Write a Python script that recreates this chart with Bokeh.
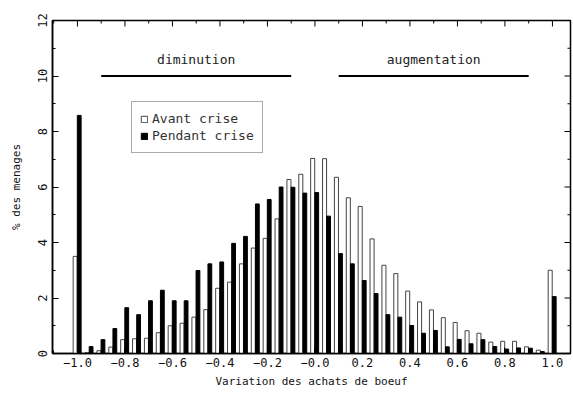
import numpy as np
from bokeh.plotting import figure
from bokeh.models import (Range1d, FixedTicker, Legend, LegendItem,
                          ColumnDataSource)
from bokeh.transform import dodge
from bokeh.core.properties import value
from bokeh.embed import file_html
from bokeh.resources import INLINE

# ---------------- data ----------------
bins = [-1.0, -0.95, -0.9, -0.85, -0.8, -0.75, -0.7, -0.65, -0.6, -0.55,
        -0.5, -0.45, -0.4, -0.35, -0.3, -0.25, -0.2, -0.15, -0.1, -0.05,
        0.0, 0.05, 0.1, 0.15, 0.2, 0.25, 0.3, 0.35, 0.4, 0.45,
        0.5, 0.55, 0.6, 0.65, 0.7, 0.75, 0.8, 0.85, 0.9, 0.95, 1.0]
avant = [3.5, 0.03, 0.1, 0.23, 0.5, 0.53, 0.55, 0.75, 1.0, 1.09,
         1.31, 1.58, 2.35, 2.57, 3.23, 3.8, 4.15, 4.85, 6.27, 6.46,
         7.03, 7.02, 6.35, 5.61, 5.30, 4.13, 3.18, 2.88, 2.25, 1.86,
         1.57, 1.29, 1.12, 0.82, 0.73, 0.41, 0.44, 0.44, 0.24, 0.12, 3.0]
pendant = [8.58, 0.25, 0.5, 0.9, 1.65, 1.4, 1.9, 2.28, 1.9, 1.9,
           2.99, 3.23, 3.3, 3.97, 4.22, 5.39, 5.55, 6.0, 5.99, 5.78,
           5.8, 4.95, 3.6, 3.23, 2.63, 2.16, 1.4, 1.31, 1.01, 0.73,
           0.83, 0.24, 0.51, 0.35, 0.5, 0.25, 0.16, 0.2, 0.19, 0.07, 2.05]
series_names = ["Avant crise", "Pendant crise"]

x_ticks = [-1.0, -0.8, -0.6, -0.4, -0.2, 0.0, 0.2, 0.4, 0.6, 0.8, 1.0]
x_tick_labels = ["\u22121.0", "\u22120.8", "\u22120.6", "\u22120.4", "\u22120.2",
                 "\u22120.0", "0.2", "0.4", "0.6", "0.8", "1.0"]
x_minor = [-1.1, -0.9, -0.7, -0.5, -0.3, -0.1, 0.1, 0.3, 0.5, 0.7, 0.9]
y_ticks = [0, 2, 4, 6, 8, 10, 12]
y_minor = [1, 3, 5, 7, 9, 11]

zones = ["diminution", "augmentation"]
zone_start = [-0.9, 0.1]
zone_end = [-0.1, 0.9]
zone_level = [10, 10]

x_label = "Variation des achats de boeuf"
y_label = "% des menages"

FONT = "DejaVu Sans Mono"
X0, X1, Y0, Y1 = -1.105, 1.076, 0, 12
FRAME_W, FRAME_H = 518, 333

# ---------------- figure ----------------
p = figure(width=573, height=394, output_backend="svg", toolbar_location=None,
           x_range=Range1d(X0, X1), y_range=Range1d(Y0, Y1),
           min_border_left=52, min_border_right=3, min_border_top=20,
           min_border_bottom=41)
p.grid.visible = False
p.outline_line_color = "black"
p.outline_line_width = 1.5
p.background_fill_color = "white"
p.border_fill_color = "white"

src = ColumnDataSource(dict(x=bins, avant=avant, pendant=pendant))

r_av = p.vbar(x=dodge("x", -0.0095, range=p.x_range), top="avant", width=0.017,
              bottom=0, source=src, fill_color="white", line_color="#444444",
              line_width=1)
r_pe = p.vbar(x=dodge("x", 0.0075, range=p.x_range), top="pendant", width=0.016,
              bottom=0, source=src, fill_color="black", line_color="black",
              line_width=1)

# annotation lines + labels
zsrc = ColumnDataSource(dict(x0=zone_start, x1=zone_end, y=zone_level, txt=zones,
                             xm=[(a + b) / 2 for a, b in zip(zone_start, zone_end)]))
p.segment(x0="x0", y0="y", x1="x1", y1="y", source=zsrc, line_color="black",
          line_width=2)
p.text(x="xm", y="y", text="txt", source=zsrc, y_offset=-17,
       text_align="center", text_baseline="middle", text_font=value(FONT),
       text_font_size="13px", text_color="#222222")

# ticks on the top and right edges (inward), from the same tick lists
dx_major = 6 * (X1 - X0) / FRAME_W
dx_minor = 3 * (X1 - X0) / FRAME_W
dy_major = 6 * (Y1 - Y0) / FRAME_H
dy_minor = 3 * (Y1 - Y0) / FRAME_H
rt = ColumnDataSource(dict(
    y=y_ticks + y_minor,
    x0=[X1] * (len(y_ticks) + len(y_minor)),
    x1=[X1 - dx_major] * len(y_ticks) + [X1 - dx_minor] * len(y_minor)))
p.segment(x0="x0", y0="y", x1="x1", y1="y", source=rt, line_color="black",
          line_width=1)
tp = ColumnDataSource(dict(
    x=x_ticks + x_minor,
    y0=[Y1] * (len(x_ticks) + len(x_minor)),
    y1=[Y1 - dy_major] * len(x_ticks) + [Y1 - dy_minor] * len(x_minor)))
p.segment(x0="x", y0="y0", x1="x", y1="y1", source=tp, line_color="black",
          line_width=1)

# axes
xa = p.xaxis[0]
xa.ticker = FixedTicker(ticks=x_ticks, minor_ticks=x_minor)
xa.major_label_overrides = {t: l for t, l in zip(x_ticks, x_tick_labels)}
ya = p.yaxis[0]
ya.ticker = FixedTicker(ticks=y_ticks, minor_ticks=y_minor)
ya.major_label_orientation = "vertical"

for ax in (xa, ya):
    ax.axis_line_color = "black"
    ax.axis_line_width = 1.5
    ax.major_tick_in = 6
    ax.major_tick_out = 0
    ax.minor_tick_in = 3
    ax.minor_tick_out = 0
    ax.major_tick_line_color = "black"
    ax.minor_tick_line_color = "black"
    ax.major_label_text_font = FONT
    ax.major_label_text_font_size = "12px"
    ax.major_label_text_color = "#111111"
    ax.axis_label_text_font = FONT
    ax.axis_label_text_font_size = "11px"
    ax.axis_label_text_font_style = "normal"
    ax.axis_label_text_color = "#111111"

xa.axis_label = x_label
xa.major_label_standoff = 4
xa.axis_label_standoff = 5
ya.axis_label = y_label
ya.major_label_standoff = 6
ya.axis_label_standoff = 12

# legend
legend = Legend(items=[LegendItem(label=series_names[0], renderers=[r_av]),
                       LegendItem(label=series_names[1], renderers=[r_pe])],
                location=(79, 200))
legend.label_text_font = FONT
legend.label_text_font_size = "13px"
legend.label_text_color = "#333333"
legend.glyph_width = 8
legend.glyph_height = 8
legend.label_height = 17
legend.label_standoff = 4
legend.spacing = 0
legend.padding = 8
legend.margin = 0
legend.border_line_color = "#555555"
legend.border_line_width = 1
legend.background_fill_alpha = 1
p.add_layout(legend)

open("out.html", "w").write(file_html(p, INLINE))
